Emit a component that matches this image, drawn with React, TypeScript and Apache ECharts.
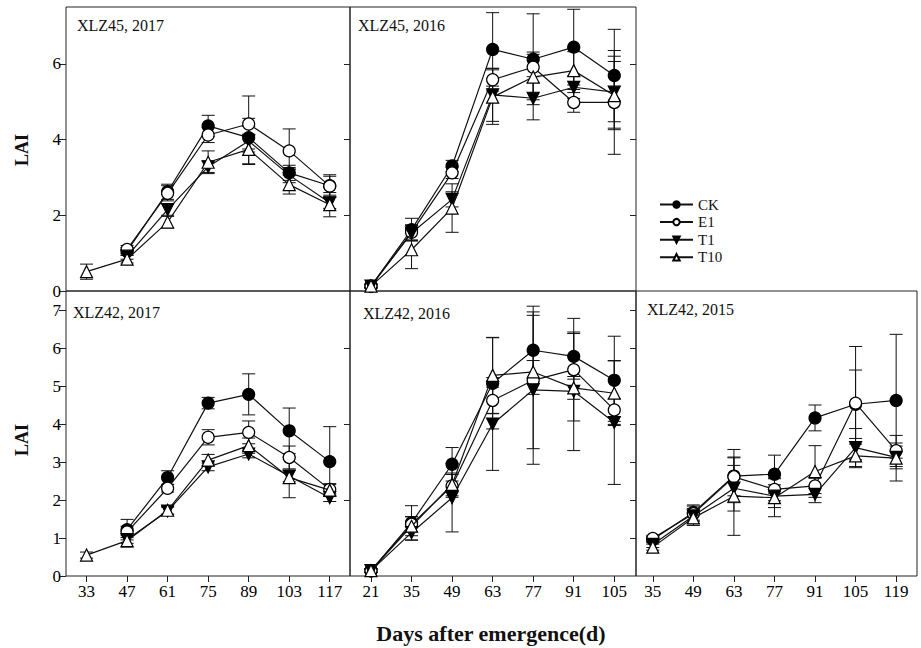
import React, { useEffect, useRef } from "react";
import * as echarts from "echarts";

// ---------- data ----------
const treatments = ["CK", "E1", "T1", "T10"];

// Panel A: XLZ45, 2017
const daysA = [33, 47, 61, 75, 89, 103, 117];
const ckA = [null, 1.05, 2.62, 4.36, 4.05, 3.12, 2.78];
const e1A = [null, 1.1, 2.58, 4.12, 4.41, 3.7, 2.77];
const t1A = [null, 0.92, 2.15, 3.28, 3.96, 3.06, 2.33];
const t10A = [0.51, 0.84, 1.82, 3.4, 3.74, 2.81, 2.28];
const ckSdA = [0, 0.1, 0.2, 0.28, 0.3, 0.2, 0.25];
const e1SdA = [0, 0.1, 0.2, 0.2, 0.74, 0.58, 0.3];
const t1SdA = [0, 0.08, 0.15, 0.15, 0.6, 0.2, 0.15];
const t10SdA = [0.2, 0.1, 0.15, 0.3, 0.4, 0.25, 0.32];

// Panel B: XLZ45, 2016
const daysB = [21, 35, 49, 63, 77, 91, 105];
const ckB = [0.13, 1.62, 3.3, 6.38, 6.12, 6.44, 5.69];
const e1B = [0.13, 1.55, 3.12, 5.58, 5.91, 4.98, 4.98];
const t1B = [0.13, 1.53, 2.42, 5.18, 5.09, 5.38, 5.25];
const t10B = [0.13, 1.09, 2.19, 5.12, 5.65, 5.82, 5.16];
const ckSdB = [0.05, 0.3, 0.15, 0.97, 1.2, 1.0, 1.22];
const e1SdB = [0.05, 0.2, 0.15, 0.3, 0.4, 0.26, 1.37];
const t1SdB = [0.05, 0.2, 0.2, 0.7, 0.57, 0.3, 0.95];
const t10SdB = [0.05, 0.5, 0.64, 0.72, 0.6, 0.5, 0.9];

// Panel C: XLZ42, 2017
const daysC = [33, 47, 61, 75, 89, 103, 117];
const ckC = [null, 1.22, 2.59, 4.55, 4.78, 3.82, 3.01];
const e1C = [null, 1.16, 2.31, 3.65, 3.78, 3.12, 2.28];
const t1C = [null, 0.96, 1.71, 2.87, 3.21, 2.63, 2.06];
const t10C = [0.55, 0.93, 1.73, 3.05, 3.43, 2.59, 2.26];
const ckSdC = [0, 0.27, 0.18, 0.15, 0.54, 0.6, 0.92];
const e1SdC = [0, 0.15, 0.1, 0.2, 0.3, 0.3, 0.15];
const t1SdC = [0, 0.1, 0.1, 0.1, 0.1, 0.15, 0.1];
const t10SdC = [0.08, 0.17, 0.1, 0.15, 0.2, 0.53, 0.15];

// Panel D: XLZ42, 2016
const daysD = [21, 35, 49, 63, 77, 91, 105];
const ckD = [0.14, 1.4, 2.94, 5.07, 5.94, 5.78, 5.15];
const e1D = [0.14, 1.36, 2.37, 4.62, 5.15, 5.43, 4.37];
const t1D = [0.14, 1.14, 2.06, 4.0, 4.9, 4.86, 4.04];
const t10D = [0.14, 1.31, 2.41, 5.28, 5.37, 4.95, 4.81];
const ckSdD = [0.05, 0.45, 0.44, 1.2, 1.16, 0.6, 1.16];
const e1SdD = [0.05, 0.2, 0.3, 0.35, 1.8, 1.35, 0.3];
const t1SdD = [0.05, 0.2, 0.9, 1.22, 1.96, 1.56, 1.63];
const t10SdD = [0.05, 0.25, 0.3, 1.0, 0.3, 0.3, 0.85];

// Panel E: XLZ42, 2015
const daysE = [35, 49, 63, 77, 91, 105, 119];
const ckE = [0.96, 1.67, 2.63, 2.68, 4.16, 4.52, 4.62];
const e1E = [0.99, 1.64, 2.61, 2.28, 2.37, 4.55, 3.3];
const t1E = [0.83, 1.58, 2.31, 2.1, 2.15, 3.38, 3.12];
const t10E = [0.76, 1.53, 2.1, 2.06, 2.75, 3.16, 3.1];
const ckSdE = [0.08, 0.2, 0.7, 0.5, 0.34, 0.9, 1.74];
const e1SdE = [0.08, 0.2, 0.5, 0.3, 0.2, 1.49, 0.2];
const t1SdE = [0.08, 0.2, 0.6, 0.3, 0.22, 0.5, 0.3];
const t10SdE = [0.08, 0.2, 1.03, 0.5, 0.68, 0.31, 0.6];

const panelTitles = ["XLZ45, 2017", "XLZ45, 2016", "XLZ42, 2017", "XLZ42, 2016", "XLZ42, 2015"];
const yTicksTop = [0, 2, 4, 6];
const yTicksBottom = [0, 1, 2, 3, 4, 5, 6, 7];

const SERIF = '"Liberation Serif", "Times New Roman", serif';

const panels = [
  { days: daysA, means: [ckA, e1A, t1A, t10A], sds: [ckSdA, e1SdA, t1SdA, t10SdA] },
  { days: daysB, means: [ckB, e1B, t1B, t10B], sds: [ckSdB, e1SdB, t1SdB, t10SdB] },
  { days: daysC, means: [ckC, e1C, t1C, t10C], sds: [ckSdC, e1SdC, t1SdC, t10SdC] },
  { days: daysD, means: [ckD, e1D, t1D, t10D], sds: [ckSdD, e1SdD, t1SdD, t10SdD] },
  { days: daysE, means: [ckE, e1E, t1E, t10E], sds: [ckSdE, e1SdE, t1SdE, t10SdE] },
];

const symbolDefs = [
  { symbol: "circle", rotate: 0, fill: "#000" },
  { symbol: "circle", rotate: 0, fill: "#fff" },
  { symbol: "triangle", rotate: 180, fill: "#000" },
  { symbol: "triangle", rotate: 0, fill: "#fff" },
];

export default function App() {
  const ref = useRef<HTMLDivElement>(null);
  useEffect(() => {
    if (!ref.current) return;
    const chart = echarts.init(ref.current, undefined, { renderer: "svg" });

    const grids = [
      { left: 66, top: 7, width: 284, height: 284 },
      { left: 350, top: 7, width: 286, height: 284 },
      { left: 66, top: 291, width: 284, height: 285 },
      { left: 350, top: 291, width: 286, height: 285 },
      { left: 636, top: 291, width: 281, height: 285 },
    ].map((g) => ({ ...g, show: true, borderColor: "#222", borderWidth: 1, backgroundColor: "transparent" }));

    const xRanges = [
      [25.9, 124],
      [13.75, 112.5],
      [25.9, 124],
      [13.75, 112.5],
      [29.2, 126.2],
    ];

    const labelStyle = { color: "#000", fontFamily: SERIF, fontSize: 17 };
    const tickStyle = { color: "#222", width: 1 };

    const xAxis: any[] = [];
    for (let g = 0; g < 5; g++) {
      const bottomRow = g >= 2;
      xAxis.push({
        type: "value",
        gridIndex: g,
        min: xRanges[g][0],
        max: xRanges[g][1],
        position: "bottom",
        axisLine: { show: false },
        splitLine: { show: false },
        axisTick: {
          show: bottomRow,
          inside: false,
          length: 6,
          lineStyle: tickStyle,
          customValues: panels[g].days,
        },
        axisLabel: {
          show: bottomRow,
          ...labelStyle,
          margin: 7,
          customValues: panels[g].days,
        },
      });
    }
    for (const g of [2, 3]) {
      xAxis.push({
        type: "value",
        gridIndex: g,
        min: xRanges[g][0],
        max: xRanges[g][1],
        position: "top",
        axisLine: { show: false },
        splitLine: { show: false },
        axisTick: { show: true, inside: true, length: 6, lineStyle: tickStyle, customValues: panels[g].days },
        axisLabel: { show: false },
      });
    }

    const yAxis: any[] = [];
    for (let g = 0; g < 5; g++) {
      const labelled = g === 0 || g === 2;
      const ticks = g < 2 ? yTicksTop : yTicksBottom;
      yAxis.push({
        type: "value",
        gridIndex: g,
        min: 0,
        max: 7.5,
        position: "left",
        axisLine: { show: false },
        splitLine: { show: false },
        axisTick: { show: labelled, inside: false, length: 7, lineStyle: tickStyle, customValues: ticks },
        axisLabel: { show: labelled, ...labelStyle, margin: 5, customValues: ticks },
      });
    }
    const rightDefs = [
      { g: 0, ticks: [2, 4, 6] },
      { g: 1, ticks: [2, 4, 6] },
      { g: 2, ticks: [2, 4, 6] },
      { g: 3, ticks: [1, 2, 3, 4, 5, 6, 7] },
    ];
    for (const r of rightDefs) {
      yAxis.push({
        type: "value",
        gridIndex: r.g,
        min: 0,
        max: 7.5,
        position: "right",
        axisLine: { show: false },
        splitLine: { show: false },
        axisTick: { show: true, inside: true, length: 6, lineStyle: tickStyle, customValues: r.ticks },
        axisLabel: { show: false },
      });
    }

    const series: any[] = [];
    panels.forEach((p, g) => {
      p.means.forEach((m, t) => {
        const data = p.days
          .map((d, i) => (m[i] == null ? null : [d, (m[i] as number) - p.sds[t][i], (m[i] as number) + p.sds[t][i]]))
          .filter((v) => v !== null);
        series.push({
          type: "custom",
          name: treatments[t] + "_err" + g,
          xAxisIndex: g,
          yAxisIndex: g,
          z: 1,
          silent: true,
          data,
          encode: { x: 0, y: [1, 2] },
          renderItem: (params: any, api: any) => {
            const x = api.value(0);
            const lo = api.value(1);
            const hi = api.value(2);
            const top = api.coord([x, hi]);
            const bot = api.coord([x, lo]);
            const hw = 6.5;
            const style = { stroke: "#111", lineWidth: 1, fill: null };
            return {
              type: "group",
              children: [
                { type: "line", shape: { x1: top[0], y1: top[1], x2: bot[0], y2: bot[1] }, style },
                { type: "line", shape: { x1: top[0] - hw, y1: top[1], x2: top[0] + hw, y2: top[1] }, style },
                { type: "line", shape: { x1: bot[0] - hw, y1: bot[1], x2: bot[0] + hw, y2: bot[1] }, style },
              ],
            };
          },
        });
      });
      p.means.forEach((m, t) => {
        const sd = symbolDefs[t];
        series.push({
          type: "line",
          name: treatments[t],
          xAxisIndex: g,
          yAxisIndex: g,
          z: 3 + t,
          data: p.days.map((d, i) => [d, m[i]]),
          symbol: sd.symbol,
          symbolSize: 12,
          symbolRotate: sd.rotate,
          showAllSymbol: true,
          connectNulls: false,
          lineStyle: { color: "#111", width: 1.2 },
          itemStyle: { color: sd.fill, borderColor: "#000", borderWidth: 1.2 },
          emphasis: { disabled: true },
        });
      });
    });

    const graphic: any[] = [];
    const titlePos = [
      [77, 25],
      [358, 25],
      [73, 312],
      [363, 313],
      [647, 309],
    ];
    panelTitles.forEach((t, i) => {
      graphic.push({
        type: "text",
        x: titlePos[i][0],
        y: titlePos[i][1],
        style: { text: t, fontFamily: SERIF, fontSize: 16, fill: "#111", textVerticalAlign: "middle" },
      });
    });
    graphic.push({
      type: "text",
      x: 22,
      y: 150,
      rotation: Math.PI / 2,
      style: { text: "LAI", fontFamily: SERIF, fontSize: 18, fontWeight: "bold", fill: "#111", textAlign: "center", textVerticalAlign: "middle" },
    });
    graphic.push({
      type: "text",
      x: 22,
      y: 440,
      rotation: Math.PI / 2,
      style: { text: "LAI", fontFamily: SERIF, fontSize: 18, fontWeight: "bold", fill: "#111", textAlign: "center", textVerticalAlign: "middle" },
    });
    graphic.push({
      type: "text",
      x: 491,
      y: 633,
      style: {
        text: "Days after emergence(d)",
        fontFamily: SERIF,
        fontSize: 22,
        fontWeight: "bold",
        fill: "#111",
        textAlign: "center",
        textVerticalAlign: "middle",
      },
    });

    chart.setOption({
      animation: false,
      backgroundColor: "#fff",
      grid: grids,
      xAxis,
      yAxis,
      series,
      graphic,
      legend: {
        data: treatments,
        orient: "vertical",
        left: 659,
        top: 197,
        padding: 0,
        itemWidth: 33,
        itemHeight: 8,
        itemGap: 2.6,
        symbolRotate: "inherit",
        textStyle: { fontFamily: SERIF, fontSize: 15, color: "#111", lineHeight: 15 },
        selectedMode: false,
      },
    });
    return () => chart.dispose();
  }, []);
  return <div ref={ref} style={{ position: "absolute", left: 0, top: 0, width: 921, height: 648 }} />;
}
